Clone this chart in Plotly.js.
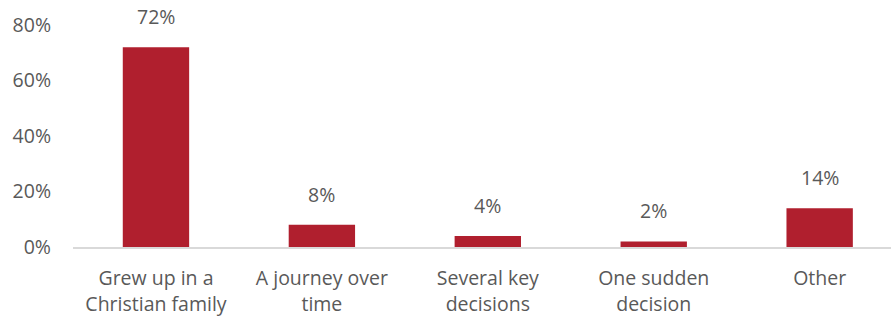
<!DOCTYPE html>
<html>
<head>
<meta charset="utf-8">
<script src="https://cdn.plot.ly/plotly-3.0.1.min.js"></script>
<style>html,body{margin:0;padding:0;background:#fff;}#chart{width:891px;height:318px;}</style>
</head>
<body>
<div id="chart"></div>
<script>
var categories = ["Grew up in a<br>Christian family", "A journey over<br>time", "Several key<br>decisions", "One sudden<br>decision", "Other"];
var values = [72, 8, 4, 2, 14];
var valueLabels = ["72%", "8%", "4%", "2%", "14%"];
var yTickVals = [0, 20, 40, 60, 80];
var yTickText = ["0%", "20%", "40%", "60%", "80%"];

var textColor = "#595959";
var fontFam = "Open Sans, sans-serif";

var trace = {
  type: "bar",
  x: categories,
  y: values,
  marker: {color: "#B01F2E"},
  width: 0.4,
  hoverinfo: "none"
};

var annotations = categories.map(function(c, i) {
  return {
    x: c, y: values[i], xref: "x", yref: "y",
    text: valueLabels[i], showarrow: false,
    yanchor: "bottom", yshift: 15,
    font: {family: fontFam, size: 19.5, color: textColor}
  };
});

var layout = {
  width: 891, height: 318,
  margin: {l: 73, r: 0, t: 25, b: 71},
  paper_bgcolor: "#fff", plot_bgcolor: "#fff",
  showlegend: false,
  font: {family: fontFam, size: 19.5, color: textColor},
  xaxis: {
    range: [-0.5, 4.43],
    showgrid: false, zeroline: false,
    showline: true, linecolor: "#D9D9D9", linewidth: 2,
    ticks: "", ticklabelstandoff: 13,
    tickfont: {family: fontFam, size: 19.5, color: textColor},
    fixedrange: true
  },
  yaxis: {
    range: [0, 80],
    showgrid: false, zeroline: false, showline: false,
    tickvals: yTickVals, ticktext: yTickText,
    ticks: "", ticklabelstandoff: 21,
    tickfont: {family: fontFam, size: 19.5, color: textColor},
    fixedrange: true
  },
  annotations: annotations
};

Plotly.newPlot("chart", [trace], layout, {displayModeBar: false, staticPlot: true});
</script>
</body>
</html>
